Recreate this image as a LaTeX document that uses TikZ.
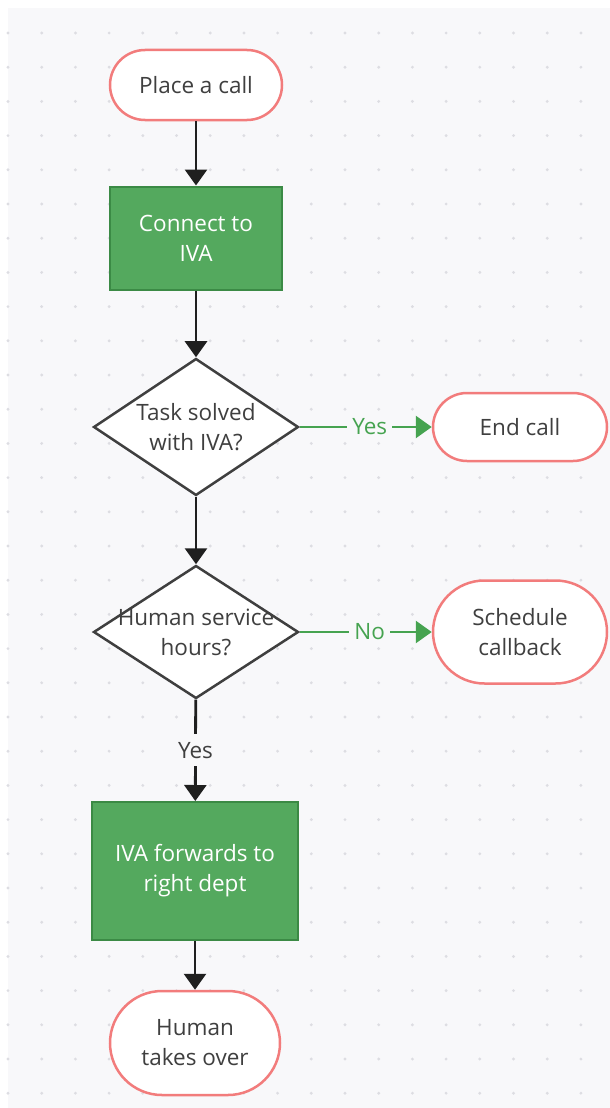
\documentclass[tikz,border=0pt]{standalone}
\usepackage{fontspec}
\setmainfont{Open Sans}
\usetikzlibrary{shapes.geometric,arrows.meta}
\definecolor{canvas}{HTML}{F8F8FA}
\definecolor{griddot}{HTML}{DDDDE2}
\definecolor{boxgreen}{HTML}{54A95E}
\definecolor{boxedge}{HTML}{3B8A45}
\definecolor{termred}{HTML}{F27C7C}
\definecolor{flowgreen}{HTML}{46A350}
\definecolor{inkgray}{HTML}{3F3F3F}
\newcommand{\chartfont}{\fontsize{22.5}{30}\selectfont}
\tikzset{
  terminal/.style 2 args={rectangle, rounded corners=#2, draw=termred, line width=2.5pt,
    fill=white, text=inkgray, minimum width=172pt, minimum height=#1, align=center, font=\chartfont},
  process/.style={rectangle, draw=boxedge, line width=2pt, fill=boxgreen, text=white,
    align=center, font=\chartfont},
  decision/.style={diamond, draw=inkgray, line width=2.5pt, fill=white,
    minimum width=205pt, minimum height=137pt, inner sep=0pt},
  qtext/.style={align=center, text=inkgray, font=\chartfont},
  flow/.style={-{Triangle[width=22pt,length=16pt]}, line width=2.8pt, draw=black!88},
  branch/.style={flow, draw=flowgreen},
  tag/.style={fill=canvas, inner sep=5pt, font=\chartfont}
}
\begin{document}
\begin{tikzpicture}[x=1pt, y=-1pt]
    \useasboundingbox (0,0) rectangle (610,1108);
    \fill[canvas] (8,8) rectangle (610,1108);
    \foreach \i in {0,...,17}
      \foreach \j in {0,...,31}
        \fill[griddot] (8+33.7*\i,33+34.2*\j) circle (1.6pt);

    \node[terminal={70pt}{35pt}] (start) at (196,85) {Place a call};
    \node[process, minimum width=172pt, minimum height=103pt] (connect) at (196,238) {Connect to\\IVA};
    \node[decision] (solved) at (196,427) {};
    \node[qtext] (solvedtext) at (solved) {Task solved\\with IVA?};
    \node[terminal={68pt}{34pt}, minimum width=174pt] (endcall) at (520,427) {End call};
    \node[decision, minimum height=133pt] (hours) at (196,632) {};
    \node[qtext] (hourstext) at (hours) {Human service\\hours?};
    \node[terminal={103pt}{51.5pt}, minimum width=174pt] (callback) at (520,632) {Schedule\\callback};
    \node[process, minimum width=206pt, minimum height=138pt] (forward) at (195,871) {IVA forwards to\\right dept};
    \node[terminal={104pt}{52pt}, minimum width=170pt] (human) at (195,1043) {Human\\takes over};

    \draw[flow] (start) -- (connect);
    \draw[flow] (connect) -- (solved);
    \draw[flow] (solved) -- (hours);
    \draw[branch] (solved) -- node[tag, text=flowgreen, pos=0.53] {Yes} (endcall);
    \draw[branch] (hours) -- node[tag, text=flowgreen, pos=0.53] {No} (callback);
    \draw[flow] (hours) -- node[tag, text=inkgray, inner ysep=8pt, pos=0.5] {Yes} (forward);
    \draw[flow] (forward) -- (human);
\end{tikzpicture}
\end{document}
